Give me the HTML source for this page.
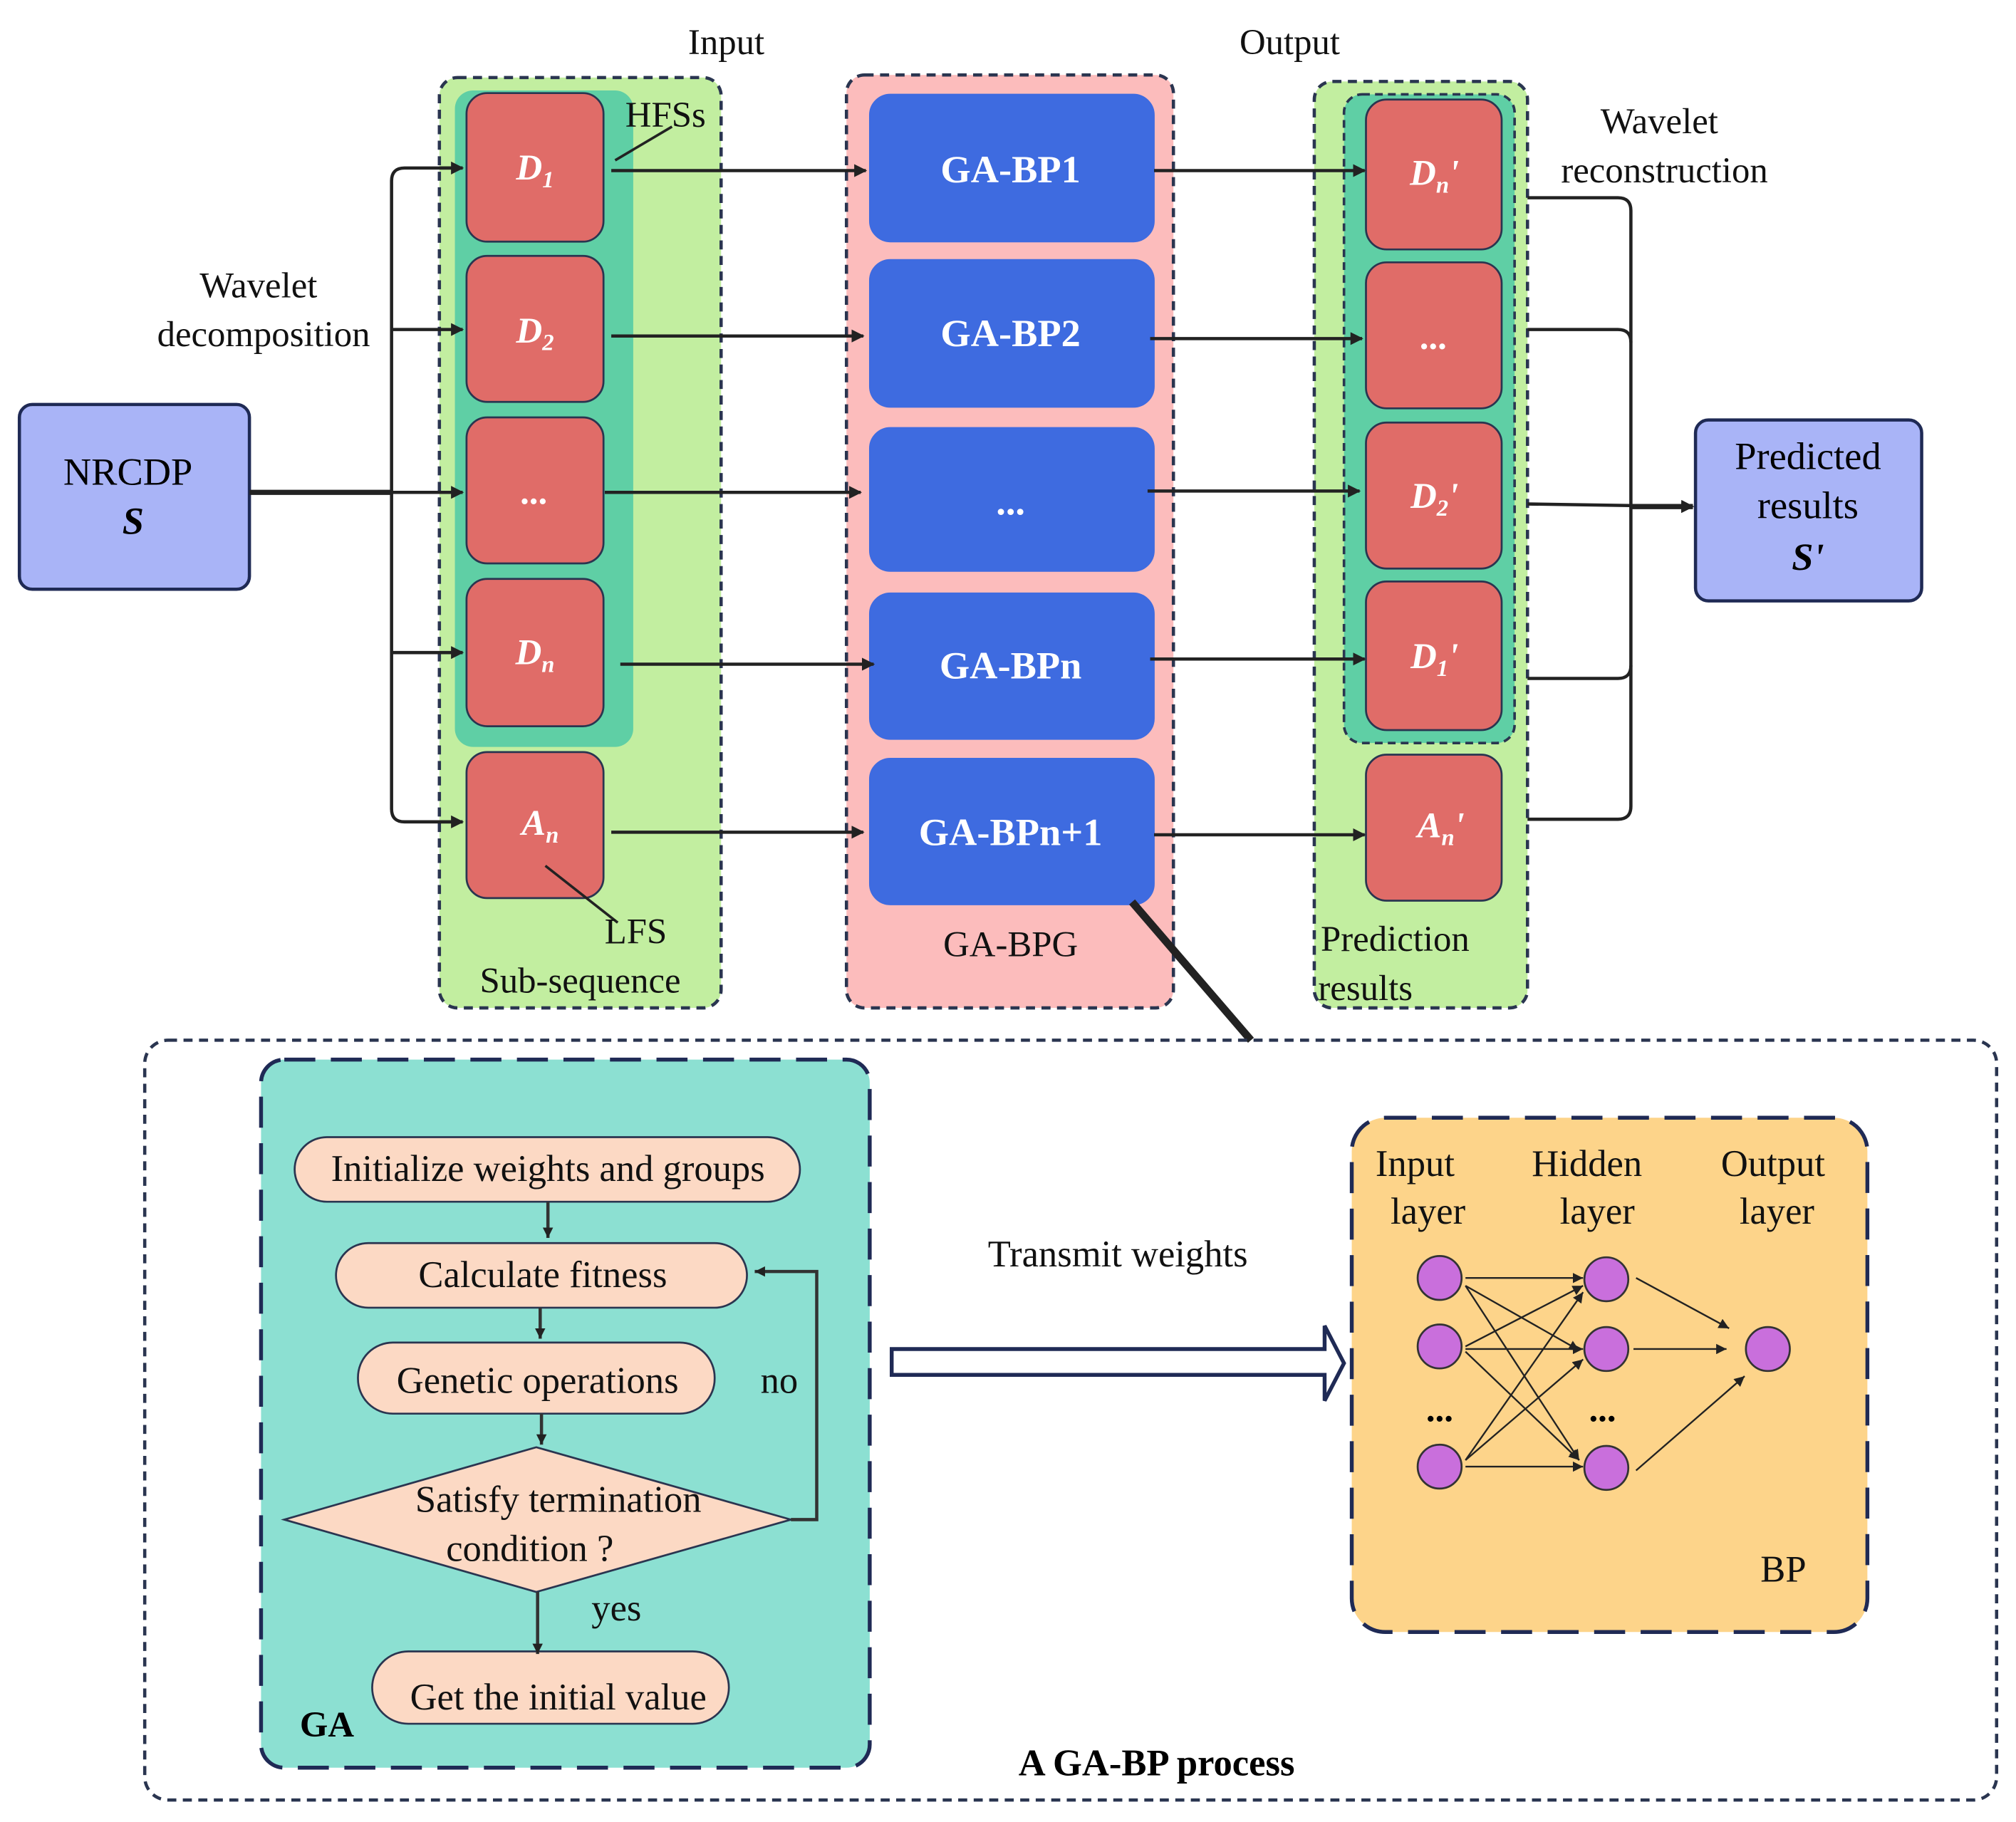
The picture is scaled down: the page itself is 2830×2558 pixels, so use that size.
<!DOCTYPE html>
<html><head><meta charset="utf-8"><style>html,body{margin:0;padding:0;background:#fff}svg{display:block}svg text{font-family:"Liberation Serif","DejaVu Serif",serif}</style></head>
<body>
<svg width="2830" height="2558" viewBox="0 0 1560 1410" xmlns="http://www.w3.org/2000/svg" style="font-family:'Liberation Serif',serif">
<defs>
<marker id="a" markerWidth="10" markerHeight="10" refX="9" refY="5" orient="auto" markerUnits="userSpaceOnUse" viewBox="0 0 10 10"><path d="M0,0 L10,5 L0,10 z" fill="#222"/></marker>
<marker id="s" markerWidth="8" markerHeight="8" refX="8" refY="4" orient="auto" markerUnits="userSpaceOnUse" viewBox="0 0 8 8"><path d="M0,0 L8,4 L0,8 z" fill="#222"/></marker>
</defs>
<rect width="1560" height="1410" fill="#fff"/>
<rect x="340" y="60" width="218" height="720" rx="14" fill="#c2eea0" stroke="#2a3550" stroke-width="2.5" stroke-dasharray="7,5"/>
<rect x="352" y="70" width="138" height="508" rx="14" fill="#5fcfa5"/>
<rect x="655" y="58" width="253" height="722" rx="14" fill="#fcbcbc" stroke="#2a3550" stroke-width="2.5" stroke-dasharray="7,5"/>
<rect x="1017" y="63" width="165" height="717" rx="14" fill="#c2eea0" stroke="#2a3550" stroke-width="2.5" stroke-dasharray="7,5"/>
<rect x="1040" y="73" width="132" height="502" rx="14" fill="#5fcfa5" stroke="#2a3550" stroke-width="2" stroke-dasharray="6,4"/>
<rect x="15" y="313" width="178" height="143" rx="10" fill="#a9b4f7" stroke="#1f2a55" stroke-width="2.5"/>
<text x="99" y="375" font-size="30" text-anchor="middle">NRCDP</text>
<text x="103" y="413" font-size="30" text-anchor="middle" font-weight="bold" font-style="italic">S</text>
<rect x="1312" y="325" width="175" height="140" rx="10" fill="#a9b4f7" stroke="#1f2a55" stroke-width="2.5"/>
<text x="1399" y="363" font-size="30" text-anchor="middle">Predicted</text>
<text x="1399" y="401" font-size="30" text-anchor="middle">results</text>
<text x="1399" y="441" font-size="30" text-anchor="middle" font-weight="bold" font-style="italic">S'</text>
<g fill="#e06c68" stroke="#2a3550" stroke-width="1.5">
<rect x="361" y="72" width="106" height="115" rx="16"/>
<rect x="361" y="198" width="106" height="113" rx="16"/>
<rect x="361" y="323" width="106" height="113" rx="16"/>
<rect x="361" y="448" width="106" height="114" rx="16"/>
<rect x="361" y="582" width="106" height="113" rx="16"/>
</g>
<g fill="#fff" font-size="28" font-weight="bold" font-style="italic" text-anchor="middle">
<text x="414" y="139">D<tspan font-size="18" dy="6">1</tspan></text>
<text x="414" y="265">D<tspan font-size="18" dy="6">2</tspan></text>
<text x="414" y="390">...</text>
<text x="414" y="514">D<tspan font-size="18" dy="6">n</tspan></text>
<text x="418" y="646">A<tspan font-size="18" dy="6">n</tspan></text>
</g>
<g fill="#3e6be0" stroke="#3e6be0">
<rect x="673" y="73" width="220" height="114" rx="16"/>
<rect x="673" y="201" width="220" height="114" rx="16"/>
<rect x="673" y="331" width="220" height="111" rx="16"/>
<rect x="673" y="459" width="220" height="113" rx="16"/>
<rect x="673" y="587" width="220" height="113" rx="16"/>
</g>
<g fill="#fff" font-size="30" font-weight="bold" text-anchor="middle">
<text x="782" y="141">GA-BP1</text>
<text x="782" y="268">GA-BP2</text>
<text x="782" y="398">...</text>
<text x="782" y="525">GA-BPn</text>
<text x="782" y="654">GA-BPn+1</text>
</g>
<g fill="#e06c68" stroke="#2a3550" stroke-width="1.5">
<rect x="1057" y="77" width="105" height="116" rx="16"/>
<rect x="1057" y="203" width="105" height="113" rx="16"/>
<rect x="1057" y="327" width="105" height="113" rx="16"/>
<rect x="1057" y="450" width="105" height="115" rx="16"/>
<rect x="1057" y="584" width="105" height="113" rx="16"/>
</g>
<g fill="#fff" font-size="28" font-weight="bold" font-style="italic" text-anchor="middle">
<text x="1110" y="143">D<tspan font-size="18" dy="6">n</tspan><tspan dy="-6">'</tspan></text>
<text x="1110" y="270">...</text>
<text x="1110" y="393">D<tspan font-size="18" dy="6">2</tspan><tspan dy="-6">'</tspan></text>
<text x="1110" y="517">D<tspan font-size="18" dy="6">1</tspan><tspan dy="-6">'</tspan></text>
<text x="1115" y="648">A<tspan font-size="18" dy="6">n</tspan><tspan dy="-6">'</tspan></text>
</g>
<g stroke="#222" stroke-width="2.5" fill="none">
<path d="M193,381 H303" stroke-width="4"/>
<path d="M358,130 H313 Q303,130 303,140 V626 Q303,636 313,636 H358" />
<path d="M303,255 H358" marker-end="url(#a)"/>
<path d="M303,381 H358" marker-end="url(#a)"/>
<path d="M303,505 H358" marker-end="url(#a)"/>
<path d="M340,130 H358" marker-end="url(#a)"/>
<path d="M340,636 H358" marker-end="url(#a)"/>
<path d="M473,132 H670" marker-end="url(#a)"/>
<path d="M473,260 H668" marker-end="url(#a)"/>
<path d="M468,381 H666" marker-end="url(#a)"/>
<path d="M480,514 H676" marker-end="url(#a)"/>
<path d="M473,644 H668" marker-end="url(#a)"/>
<path d="M893,132 H1056" marker-end="url(#a)"/>
<path d="M890,262 H1054" marker-end="url(#a)"/>
<path d="M888,380 H1052" marker-end="url(#a)"/>
<path d="M890,510 H1056" marker-end="url(#a)"/>
<path d="M893,646 H1056" marker-end="url(#a)"/>
<path d="M1182,153 H1252 Q1262,153 1262,163 V624 Q1262,634 1252,634 H1182"/>
<path d="M1182,255 H1252 Q1262,255 1262,265"/>
<path d="M1182,525 H1252 Q1262,525 1262,515"/>
<path d="M1182,390 L1310,392" marker-end="url(#a)"/>
<path d="M1262,392 H1310" stroke-width="4" marker-end="url(#a)"/>
<path d="M476,124 L520,98" stroke-width="2"/>
<path d="M422,670 L478,714" stroke-width="2"/>
<path d="M876,698 L968,805" stroke-width="6"/>
</g>
<g font-size="28" fill="#111">
<text x="562" y="42" text-anchor="middle">Input</text>
<text x="998" y="42" text-anchor="middle">Output</text>
<text x="200" y="230" text-anchor="middle">Wavelet</text>
<text x="204" y="268" text-anchor="middle">decomposition</text>
<text x="1284" y="103" text-anchor="middle">Wavelet</text>
<text x="1288" y="141" text-anchor="middle">reconstruction</text>
<text x="515" y="98" text-anchor="middle">HFSs</text>
<text x="492" y="730" text-anchor="middle">LFS</text>
<text x="449" y="768" text-anchor="middle">Sub-sequence</text>
<text x="782" y="740" text-anchor="middle">GA-BPG</text>
<text x="1022" y="736">Prediction</text>
<text x="1020" y="774">results</text>
</g>
<rect x="112" y="805" width="1433" height="588" rx="18" fill="none" stroke="#2a3550" stroke-width="2.5" stroke-dasharray="7,5"/>
<rect x="202" y="820" width="471" height="548" rx="18" fill="#8ce0d2" stroke="#1f2a55" stroke-width="3" stroke-dasharray="24,12"/>
<rect x="1046" y="865" width="399" height="398" rx="26" fill="#fdd48a" stroke="#1f2a55" stroke-width="3" stroke-dasharray="24,12"/>
<g fill="#fcd9c4" stroke="#2a3550" stroke-width="1.5">
<rect x="228" y="880" width="391" height="50" rx="25"/>
<rect x="260" y="962" width="318" height="50" rx="25"/>
<rect x="277" y="1039" width="276" height="55" rx="27"/>
<path d="M220,1176 L415,1120 L612,1176 L415,1232 Z"/>
<rect x="288" y="1278" width="276" height="56" rx="28"/>
</g>
<g stroke="#333" stroke-width="2.5" fill="none">
<path d="M424,930 V958" marker-end="url(#s)"/>
<path d="M418,1012 V1036" marker-end="url(#s)"/>
<path d="M419,1094 V1118" marker-end="url(#s)"/>
<path d="M416,1232 V1280" marker-end="url(#s)"/>
<path d="M612,1176 H632 V984 H584" marker-end="url(#s)"/>
</g>
<g font-size="29" fill="#111" text-anchor="middle">
<text x="424" y="914">Initialize weights and groups</text>
<text x="420" y="996">Calculate fitness</text>
<text x="416" y="1078">Genetic operations</text>
<text x="432" y="1170">Satisfy termination</text>
<text x="410" y="1208">condition ?</text>
<text x="432" y="1323">Get the initial value</text>
<text x="603" y="1078">no</text>
<text x="477" y="1254">yes</text>
<text x="865" y="980">Transmit  weights</text>
<text x="1095" y="910">Input</text>
<text x="1105" y="947">layer</text>
<text x="1228" y="910">Hidden</text>
<text x="1236" y="947">layer</text>
<text x="1372" y="910">Output</text>
<text x="1375" y="947">layer</text>
<text x="1380" y="1224">BP</text>
</g>
<text x="232" y="1344" font-size="28" font-weight="bold">GA</text>
<text x="895" y="1374" font-size="29" font-weight="bold" text-anchor="middle">A GA-BP process</text>
<path d="M690,1044 H1025 V1026 L1040,1055 L1025,1084 V1064 H690 Z" fill="#fff" stroke="#1f2a55" stroke-width="3"/>
<g stroke="#222" stroke-width="1.3" fill="none" marker-end="url(#s)">
<path d="M1134,989 H1225"/><path d="M1134,995 L1222,1045"/><path d="M1134,995 L1222,1130"/>
<path d="M1134,1042 L1225,995"/><path d="M1134,1044 H1225"/><path d="M1134,1046 L1222,1130"/>
<path d="M1134,1135 H1225"/><path d="M1134,1130 L1225,1000"/><path d="M1134,1130 L1225,1052"/>
<path d="M1266,989 L1338,1028"/><path d="M1264,1044 H1336"/><path d="M1266,1138 L1350,1065"/>
</g>
<g fill="#c96fdc" stroke="#333" stroke-width="1.5">
<ellipse cx="1114" cy="989" rx="17" ry="17"/>
<ellipse cx="1114" cy="1042" rx="17" ry="17"/>
<ellipse cx="1114" cy="1135" rx="17" ry="17"/>
<ellipse cx="1243" cy="990" rx="17" ry="17"/>
<ellipse cx="1243" cy="1044" rx="17" ry="17"/>
<ellipse cx="1243" cy="1136" rx="17" ry="17"/>
<ellipse cx="1368" cy="1044" rx="17" ry="17"/>
</g>
<text x="1114" y="1100" font-size="28" font-weight="bold" text-anchor="middle">...</text>
<text x="1240" y="1100" font-size="28" font-weight="bold" text-anchor="middle">...</text>
</svg>
</body></html>
